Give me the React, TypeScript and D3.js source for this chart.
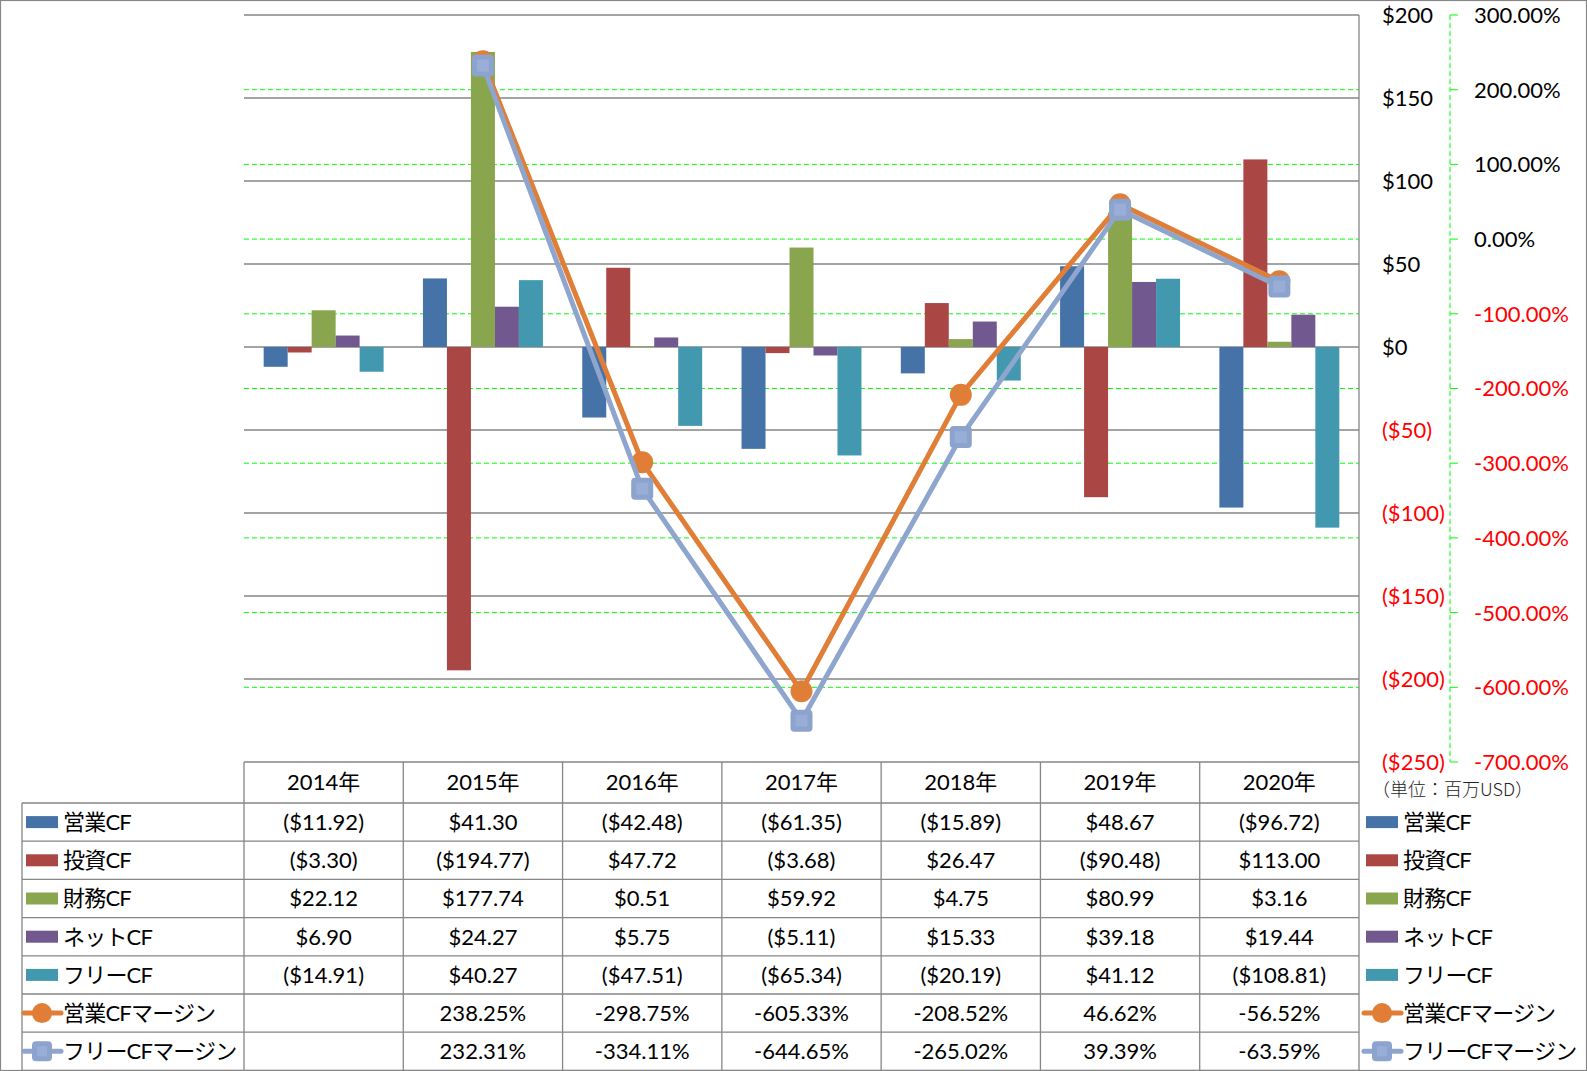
import React from "react";
import * as d3 from "d3";

const years = ["2014年", "2015年", "2016年", "2017年", "2018年", "2019年", "2020年"];
const barSeries = ["営業CF", "投資CF", "財務CF", "ネットCF", "フリーCF"];
const opCF = [-11.92, 41.3, -42.48, -61.35, -15.89, 48.67, -96.72];
const invCF = [-3.3, -194.77, 47.72, -3.68, 26.47, -90.48, 113.0];
const finCF = [22.12, 177.74, 0.51, 59.92, 4.75, 80.99, 3.16];
const netCF = [6.9, 24.27, 5.75, -5.11, 15.33, 39.18, 19.44];
const freeCF = [-14.91, 40.27, -47.51, -65.34, -20.19, 41.12, -108.81];
const lineSeries = ["営業CFマージン", "フリーCFマージン"];
const opMargin: (number | null)[] = [null, 238.25, -298.75, -605.33, -208.52, 46.62, -56.52];
const freeMargin: (number | null)[] = [null, 232.31, -334.11, -644.65, -265.02, 39.39, -63.59];
const dollarTicks = [200, 150, 100, 50, 0, -50, -100, -150, -200, -250];
const pctTicks = [300, 200, 100, 0, -100, -200, -300, -400, -500, -600, -700];
const unitLabel = "（単位：百万USD）";

const barColors = ["#4572A7", "#AA4643", "#89A54E", "#71588F", "#4198AF"];
const orange = "#E07E38";
const blueGray = "#8EA6CE";
const gray = "#868686";
const FONT = "Lato, 'Noto Sans CJK JP', sans-serif";
const FS = 22;

const fmtDollar = (v: number) => {
  const s = "$" + d3.format(",.2f")(Math.abs(v));
  return v < 0 ? `(${s})` : s;
};
const fmtDollarTick = (v: number) => (v < 0 ? `($${Math.abs(v)})` : `$${v}`);
const fmtPct = (v: number) => (v < 0 ? "-" : "") + d3.format(".2f")(Math.abs(v)) + "%";

export default function App() {
  const W = 1587, H = 1071;
  const left = 244, right = 1359, top = 15, bottom = 762;
  const rowH = 38.2;
  const headerTop = 762, dataTop = 803;
  const legendLeft = 22;

  const x = d3.scaleBand<string>().domain(years).range([left, right]).padding(0);
  const bw = x.bandwidth();
  const xi = d3.scaleBand<string>().domain(barSeries).range([0, bw]).paddingInner(0).paddingOuter(0.82);
  const yL = d3.scaleLinear().domain([-250, 200]).range([bottom, top]);
  const yR = d3.scaleLinear().domain([-700, 300]).range([bottom, top]);

  const barData = [opCF, invCF, finCF, netCF, freeCF];
  const lineData = [opMargin, freeMargin];
  const lineColors = [orange, blueGray];

  const lineGen = d3
    .line<number | null>()
    .defined((d) => d !== null)
    .x((_, i) => (x(years[i]) as number) + bw / 2)
    .y((d) => yR(d as number));

  const rowCenter = (r: number) => dataTop + rowH * r + rowH / 2;

  const marker = (k: number, cx: number, cy: number, key: string) =>
    k === 0 ? (
      <circle key={key} cx={cx} cy={cy} r={11} fill={orange} />
    ) : (
      <g key={key}>
        <rect x={cx - 11} y={cy - 11} width={22} height={22} rx={4} fill="#8BA3CD" />
        <rect x={cx - 6} y={cy - 6} width={12} height={12} fill="#99AED6" />
      </g>
    );

  const legendSymbol = (idx: number, lx: number, cy: number, key: string) => {
    if (idx < 5) {
      return <rect key={key} x={lx + 4} y={cy - 6} width={32} height={12} fill={barColors[idx]} />;
    }
    const k = idx - 5;
    return (
      <g key={key}>
        <line x1={lx + 2} x2={lx + 39} y1={cy} y2={cy} stroke={lineColors[k]} strokeWidth={5} strokeLinecap="round" />
        {k === 0 ? (
          <circle cx={lx + 20} cy={cy} r={10} fill={orange} />
        ) : (
          <g>
            <rect x={lx + 10} y={cy - 10} width={20} height={20} rx={4} fill="#8BA3CD" />
            <rect x={lx + 15} y={cy - 5} width={10} height={10} fill="#99AED6" />
          </g>
        )}
      </g>
    );
  };

  const allLabels = [...barSeries, ...lineSeries];
  const tableRows: string[][] = [
    ...barData.map((arr) => arr.map(fmtDollar)),
    ...lineData.map((arr) => arr.map((v) => (v === null ? "" : fmtPct(v)))),
  ];

  return (
    <svg
      width={W}
      height={H}
      style={{ position: "absolute", left: 0, top: 0, background: "#fff" }}
      fontFamily={FONT}
    >
      <rect x={0.5} y={0.5} width={W - 1} height={H - 1} fill="#fff" stroke={gray} strokeWidth={1.2} />

      {dollarTicks
        .filter((t) => t > -250)
        .map((t) => (
          <line key={"g" + t} x1={left} x2={right} y1={yL(t)} y2={yL(t)} stroke={gray} strokeWidth={1.3} />
        ))}
      {pctTicks
        .filter((t) => t < 300 && t > -700)
        .map((t) => (
          <line
            key={"p" + t}
            x1={left}
            x2={right}
            y1={yR(t)}
            y2={yR(t)}
            stroke="#00FF00"
            strokeWidth={1}
            strokeDasharray="5,3"
          />
        ))}

      {barData.map((arr, s) =>
        arr.map((v, i) => {
          const bx = (x(years[i]) as number) + (xi(barSeries[s]) as number);
          const y0 = yL(0), y1 = yL(v);
          return (
            <rect
              key={`b${s}-${i}`}
              x={bx}
              y={Math.min(y0, y1)}
              width={xi.bandwidth()}
              height={Math.abs(y1 - y0)}
              fill={barColors[s]}
            />
          );
        })
      )}

      <line x1={right} x2={right} y1={top} y2={bottom} stroke={gray} strokeWidth={1.3} />

      {lineData.map((arr, k) => (
        <g key={"l" + k}>
          <path d={lineGen(arr) || ""} fill="none" stroke={lineColors[k]} strokeWidth={5} strokeLinejoin="round" />
          {arr.map((v, i) =>
            v === null ? null : marker(k, (x(years[i]) as number) + bw / 2, yR(v), `m${k}-${i}`)
          )}
        </g>
      ))}

      {dollarTicks.map((t) => (
        <text key={"dl" + t} x={1382} y={yL(t)} dy="0.36em" fontSize={FS} fill={t < 0 ? "#FF0000" : "#000"}>
          {fmtDollarTick(t)}
        </text>
      ))}

      <line x1={1450} x2={1450} y1={top} y2={bottom} stroke="#00FF00" strokeWidth={1} strokeDasharray="5,3" />
      {pctTicks.map((t) => (
        <g key={"pt" + t}>
          <line x1={1450} x2={1458} y1={yR(t)} y2={yR(t)} stroke="#00FF00" strokeWidth={1} />
          <text x={1474} y={yR(t)} dy="0.36em" fontSize={FS} fill={t < 0 ? "#FF0000" : "#000"}>
            {fmtPct(t)}
          </text>
        </g>
      ))}
      <text x={1372} y={790} dy="0.36em" fontSize={18} fontWeight={300} fill="#222" fontFamily="'Noto Sans CJK JP', sans-serif">
        {unitLabel}
      </text>

      <g stroke={gray} strokeWidth={1.3}>
        <line x1={left} x2={right} y1={headerTop} y2={headerTop} />
        {d3.range(allLabels.length + 1).map((r) => (
          <line key={"hr" + r} x1={legendLeft} x2={right} y1={dataTop + r * rowH} y2={dataTop + r * rowH} />
        ))}
        <line x1={legendLeft} x2={legendLeft} y1={dataTop} y2={dataTop + rowH * allLabels.length} />
        {years.map((yr) => (
          <line key={"v" + yr} x1={x(yr) as number} x2={x(yr) as number} y1={headerTop} y2={dataTop + rowH * allLabels.length} />
        ))}
        <line x1={right} x2={right} y1={headerTop} y2={dataTop + rowH * allLabels.length} />
      </g>
      {years.map((yr) => (
        <text
          key={"h" + yr}
          x={(x(yr) as number) + bw / 2}
          y={(headerTop + dataTop) / 2}
          dy="0.36em"
          textAnchor="middle"
          fontSize={FS}
        >
          {yr}
        </text>
      ))}
      {tableRows.map((row, r) =>
        row.map((txt, i) => (
          <text
            key={`c${r}-${i}`}
            x={(x(years[i]) as number) + bw / 2}
            y={rowCenter(r)}
            dy="0.36em"
            textAnchor="middle"
            fontSize={FS}
          >
            {txt}
          </text>
        ))
      )}
      {allLabels.map((lab, r) => (
        <g key={"ll" + lab}>
          {legendSymbol(r, legendLeft, rowCenter(r), "ls" + r)}
          <text x={63} y={rowCenter(r)} dy="0.36em" fontSize={FS} letterSpacing={-0.8}>
            {lab}
          </text>
        </g>
      ))}
      {allLabels.map((lab, r) => (
        <g key={"rl" + lab}>
          {legendSymbol(r, 1362, rowCenter(r), "rs" + r)}
          <text x={1403} y={rowCenter(r)} dy="0.36em" fontSize={FS} letterSpacing={-0.8}>
            {lab}
          </text>
        </g>
      ))}
    </svg>
  );
}
